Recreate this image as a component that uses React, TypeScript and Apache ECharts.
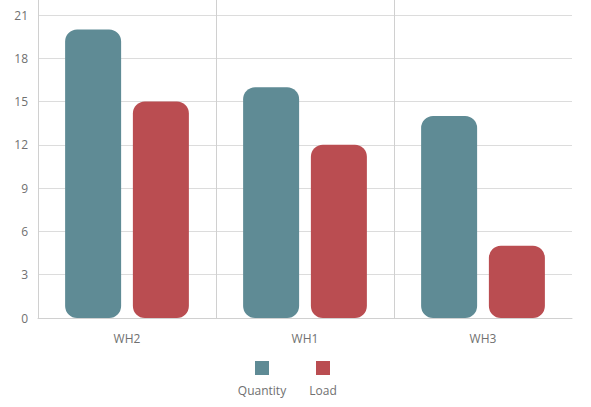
import React, { useEffect, useRef } from "react";
import * as echarts from "echarts";

const categories = ["WH2", "WH1", "WH3"];
const quantityValues = [20, 16, 14];
const loadValues = [15, 12, 5];
const seriesNames = ["Quantity", "Load"];
const seriesColors = ["#5f8b95", "#ba4d51"];

const FONT = "'Open Sans', 'Noto Sans', sans-serif";

export default function App() {
  const ref = useRef<HTMLDivElement>(null);
  useEffect(() => {
    if (!ref.current) return;
    const chart = echarts.init(ref.current, undefined, { renderer: "svg" });
    const legendCenters = [262, 323];
    const graphic: any[] = [];
    seriesNames.forEach((n, i) => {
      graphic.push({
        type: "rect",
        shape: { x: legendCenters[i] - 7, y: 361, width: 14, height: 14 },
        style: { fill: seriesColors[i] },
      });
      graphic.push({
        type: "text",
        x: legendCenters[i],
        y: 390,
        style: {
          text: n,
          fill: "#707070",
          font: `12px ${FONT}`,
          textAlign: "center",
          textVerticalAlign: "middle",
        },
      });
    });
    const lineCol = "#d0d0d0";
    chart.setOption({
      animation: false,
      textStyle: { fontFamily: FONT },
      grid: [
        { left: 38, right: 19, top: 15, bottom: 89 },
        { left: 38, right: 19, top: 0, bottom: 89 },
      ],
      legend: { show: false },
      xAxis: [
        {
          type: "category",
          data: categories,
          gridIndex: 0,
          axisLine: { show: true, lineStyle: { color: lineCol } },
          axisTick: { show: false },
          axisLabel: { color: "#707070", fontSize: 12, margin: 14, fontFamily: FONT },
          splitLine: { show: false },
        },
        {
          type: "category",
          data: categories,
          gridIndex: 1,
          axisLine: { show: false },
          axisTick: { show: false },
          axisLabel: { show: false },
          splitLine: {
            show: true,
            lineStyle: { color: [lineCol, lineCol, lineCol, "rgba(0,0,0,0)"] },
          },
        },
      ],
      yAxis: [
        {
          type: "value",
          gridIndex: 0,
          min: 0,
          max: 21,
          interval: 3,
          axisLine: { show: false },
          axisTick: { show: false },
          axisLabel: { color: "#707070", fontSize: 12, margin: 10, fontFamily: FONT },
          splitLine: { show: true, lineStyle: { color: "#dcdcdc" } },
        },
        {
          type: "value",
          gridIndex: 1,
          show: false,
          splitLine: { show: false },
        },
      ],
      series: [
        {
          name: seriesNames[0],
          type: "bar",
          data: quantityValues,
          barWidth: 56,
          barGap: "21%",
          itemStyle: { color: seriesColors[0], borderRadius: 12 },
        },
        {
          name: seriesNames[1],
          type: "bar",
          data: loadValues,
          barWidth: 56,
          barGap: "21%",
          itemStyle: { color: seriesColors[1], borderRadius: 12 },
        },
      ],
      graphic,
    });
    return () => chart.dispose();
  }, []);
  return <div ref={ref} style={{ width: 591, height: 407, position: "absolute", left: 0, top: 0 }} />;
}
